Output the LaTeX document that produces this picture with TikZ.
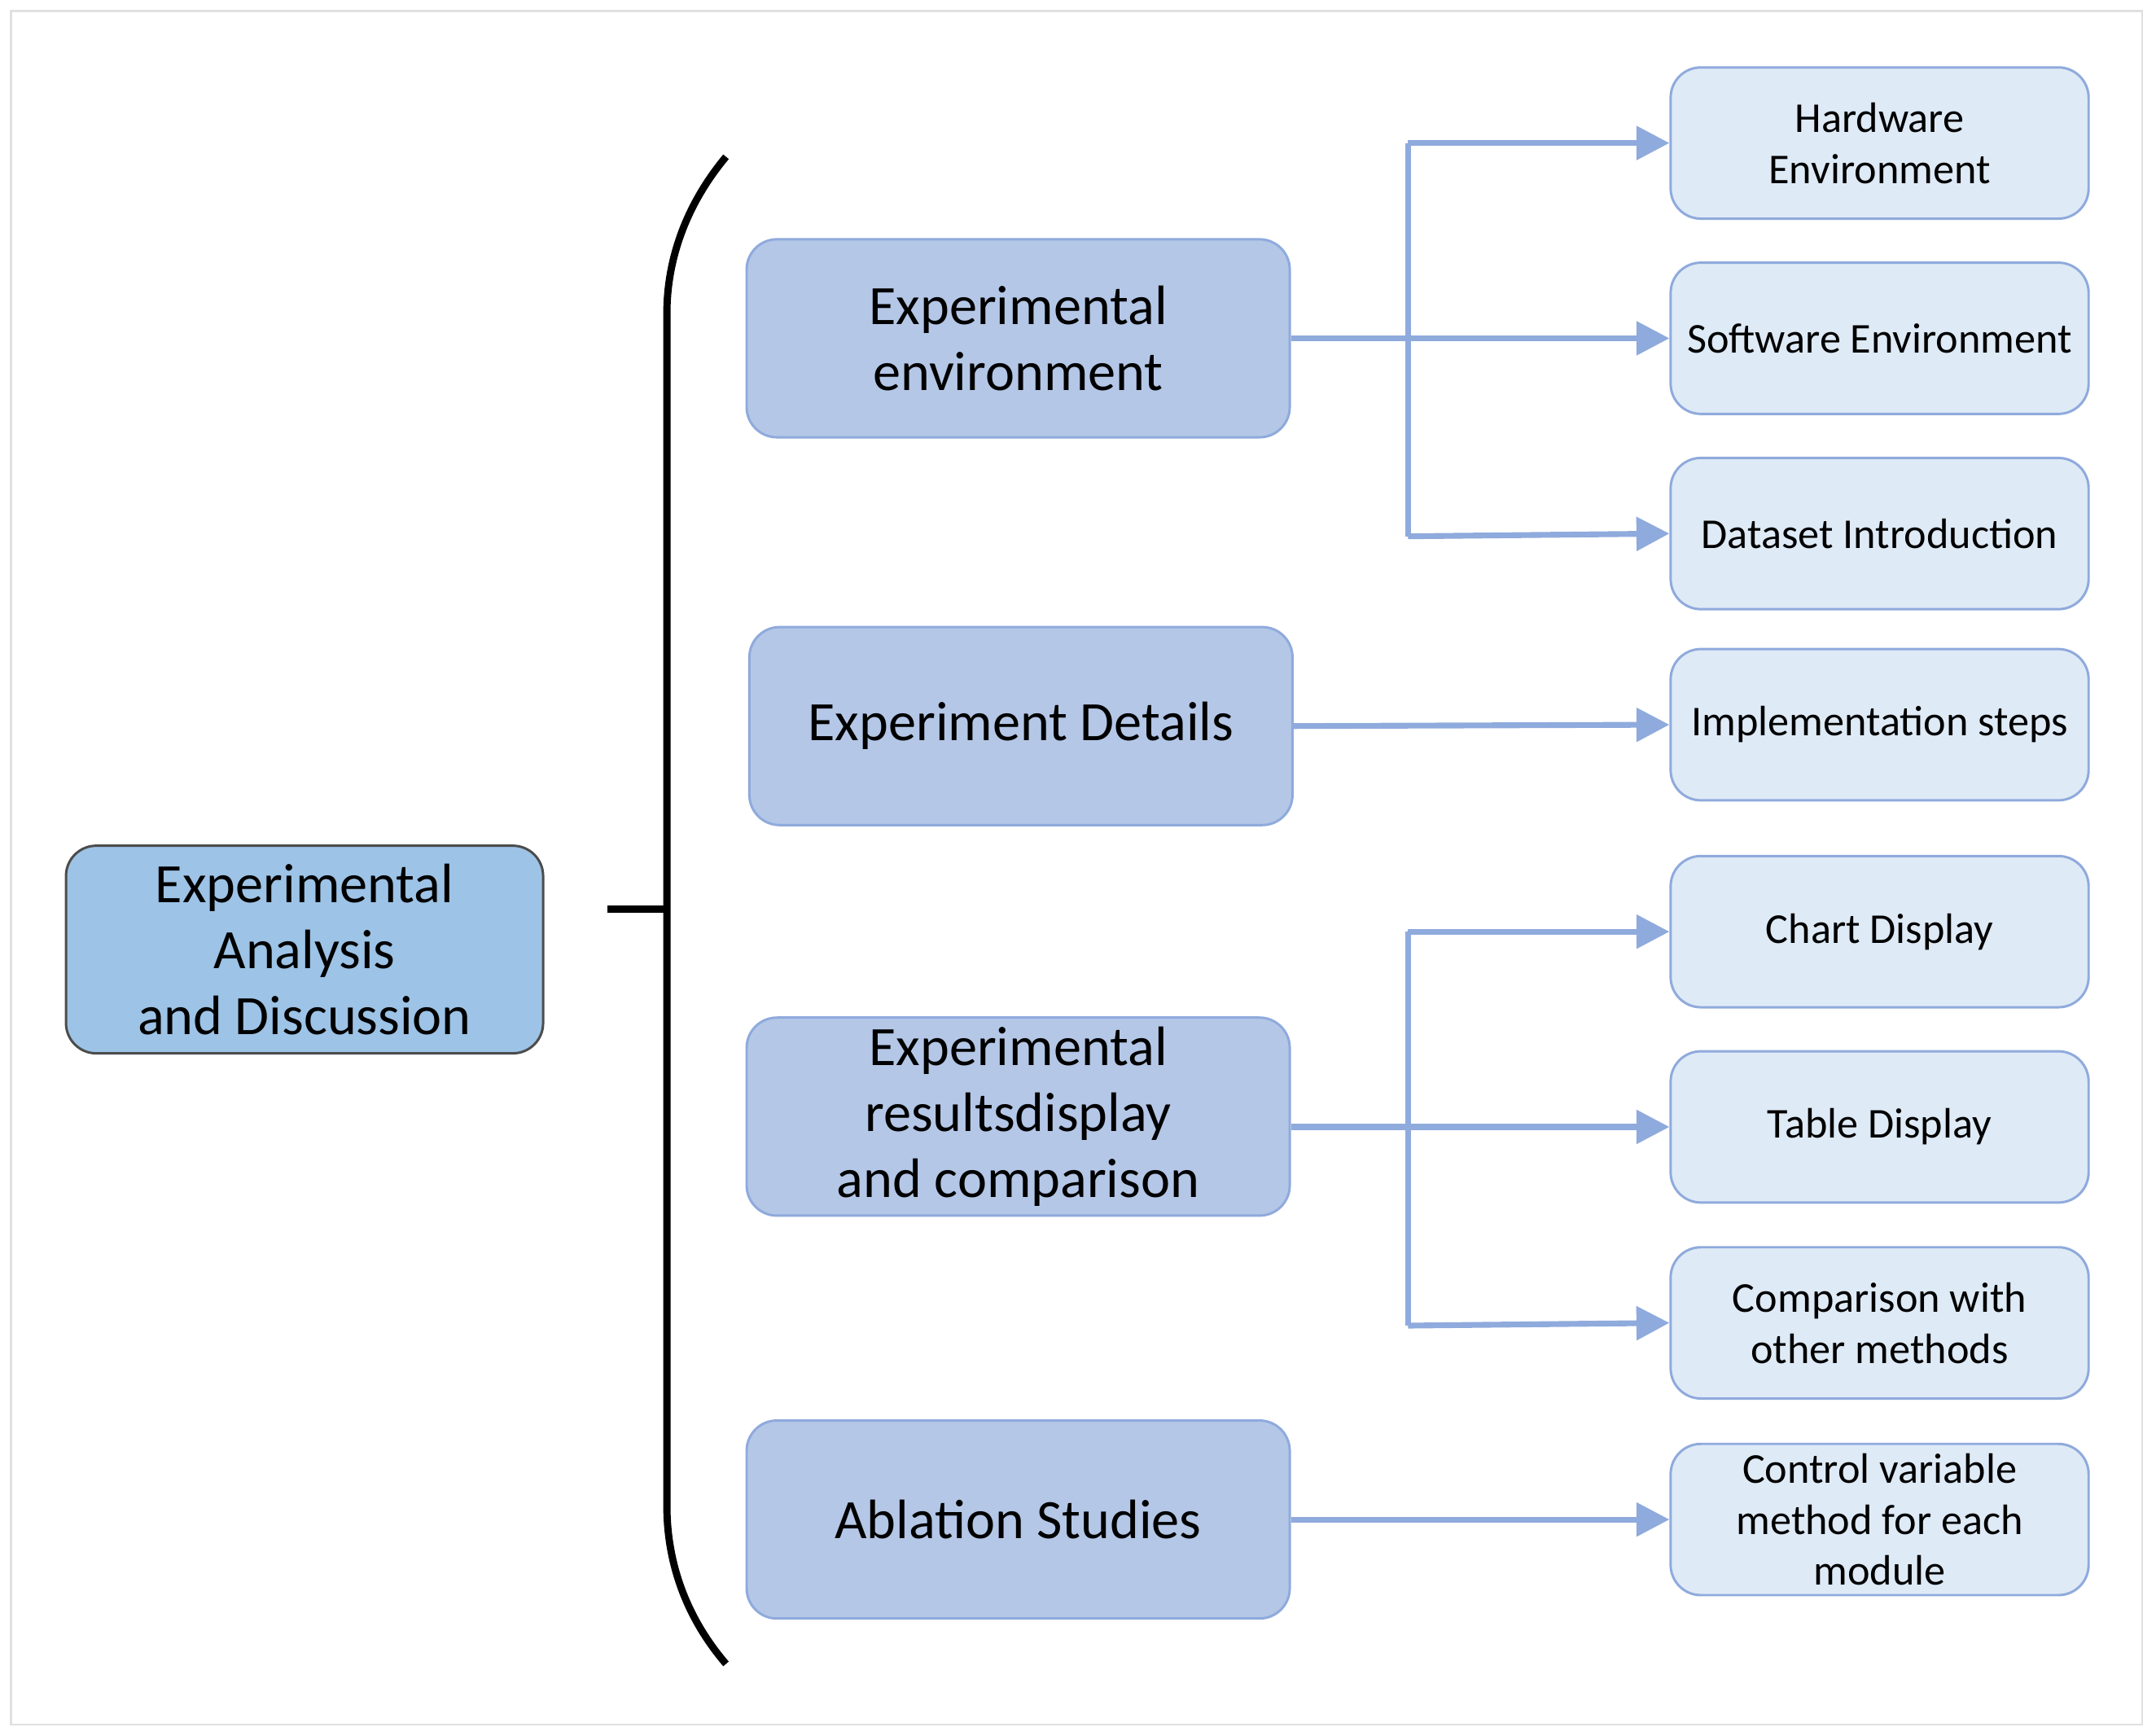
\documentclass[tikz,border=0pt]{standalone}
\usepackage{fontspec}
\setmainfont{Carlito}
\usetikzlibrary{arrows.meta}
\begin{document}
\begin{tikzpicture}[x=0.1mm,y=-0.1mm,
 box/.style={rounded corners=2.2mm,align=center,inner sep=0pt},
 root/.style={box,fill=rootc,draw=black!70,line width=0.5pt,font=\fontsize{11.5}{13.7}\selectfont},
 mid/.style={box,fill=midc,draw=linec,line width=0.5pt,font=\fontsize{11.5}{13.7}\selectfont},
 leaf/.style={box,fill=leafc,draw=linec,line width=0.5pt,font=\fontsize{8.8}{10.6}\selectfont},
 arr/.style={draw=linec,line width=1.2pt,-{Triangle[length=2.4mm,width=2.4mm]}},
 ln/.style={draw=linec,line width=1.2pt}]
\definecolor{rootc}{HTML}{9DC3E6}
\definecolor{midc}{HTML}{B4C7E7}
\definecolor{leafc}{HTML}{DEEAF6}
\definecolor{linec}{HTML}{8FAADC}
\useasboundingbox (0,0) rectangle (1568,1262);
\draw[black!12,line width=0.4pt] (8,8) rectangle (1558,1254);
\node[root,minimum width=34.7mm,minimum height=15.1mm] (r) at (221.5,690.5) {Experimental\\Analysis\\and Discussion};
\node[mid,minimum width=39.5mm,minimum height=14.4mm] (m1) at (740.5,246) {Experimental\\environment};
\node[mid,minimum width=39.5mm,minimum height=14.4mm] (m2) at (742.5,528) {Experiment Details};
\node[mid,minimum width=39.5mm,minimum height=14.4mm] (m3) at (740.5,812) {Experimental\\resultsdisplay\\and comparison};
\node[mid,minimum width=39.5mm,minimum height=14.4mm] (m4) at (740.5,1105) {Ablation Studies};
\foreach \n/\y/\t in {l1/104/{Hardware\\Environment},l2/246/{Software Environment},l3/388/{Dataset Introduction},l4/527/{Implementation steps},l5/677.5/{Chart Display},l6/819.5/{Table Display},l7/962/{Comparison with\\other methods},l8/1105/{Control variable\\method for each\\module}}
 \node[leaf,minimum width=30.4mm,minimum height=11mm] (\n) at (1367,\y) {\t};
\coordinate (b1) at (1024,246);
\coordinate (b3) at (1024,819.5);
\draw[arr] (m1.east) -- (l2.west);
\draw[ln] (1024,104) -- (1024,390);
\draw[arr] (1024,104) -- (l1.west);
\draw[arr] (1024,390) -- (l3.west);
\draw[arr] (m2.east) -- (l4.west);
\draw[arr] (m3.east |- b3) -- (l6.west);
\draw[ln] (1024,677.5) -- (1024,964);
\draw[arr] (1024,677.5) -- (l5.west);
\draw[arr] (1024,964) -- (l7.west);
\draw[arr] (m4.east) -- (l8.west);
\draw[black,line width=1.5pt] (528,114) .. controls (498,150) and (485,190) .. (485,228) -- (485,1095) .. controls (485,1135) and (498,1175) .. (528,1210);
\coordinate (t) at (442,661);
\draw[black,line width=1.5pt] (t) -- (485,661);
\end{tikzpicture}
\end{document}
